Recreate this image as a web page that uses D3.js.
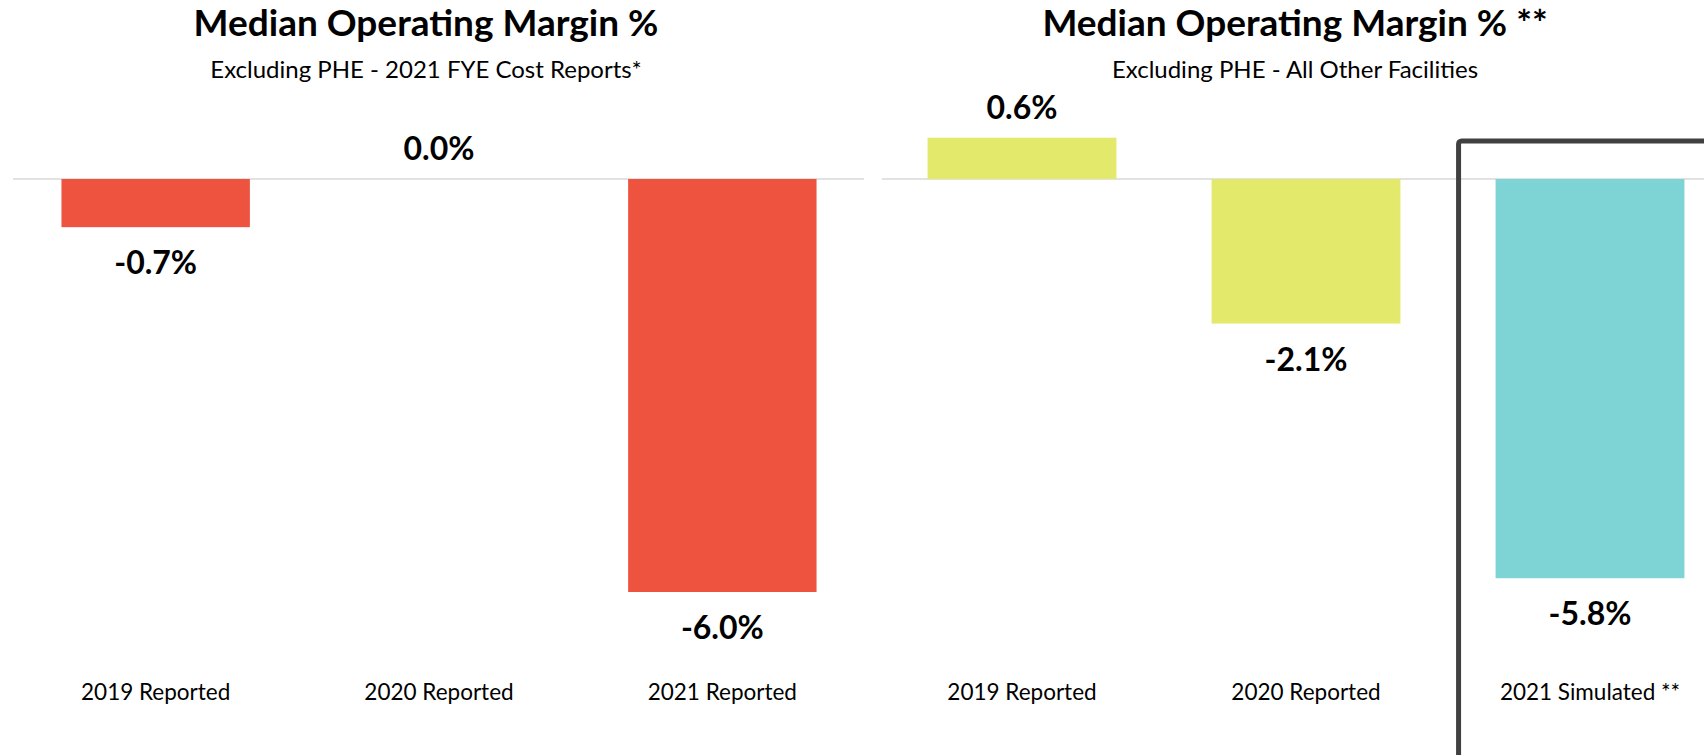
<html>
<head>
<script src="https://cdn.jsdelivr.net/npm/d3@7"></script>
<style>
  body { margin: 0; background: #fff; }
  text { font-family: Lato, "Open Sans", sans-serif; }
</style>
</head>
<body>
<script>
// chart data
var leftCategories = ["2019 Reported", "2020 Reported", "2021 Reported"];
var leftValues = [-0.7, 0.0, -6.0];
var leftLabels = ["-0.7%", "0.0%", "-6.0%"];

var rightCategories = ["2019 Reported", "2020 Reported", "2021 Simulated **"];
var rightValues = [0.6, -2.1, -5.8];
var rightLabels = ["0.6%", "-2.1%", "-5.8%"];
var rightColors = ["#e2e96b", "#e2e96b", "#7ed3d4"];

var width = 1704, height = 755;

var svg = d3.select("body").append("svg")
    .attr("width", width)
    .attr("height", height);

// shared y scale, both panels use the same range
var y = d3.scaleLinear().domain([0, -6]).range([179, 592]);

function drawPanel(opts) {
    var x = d3.scaleBand()
        .domain(opts.categories)
        .range(opts.range)
        .paddingInner(0.335)
        .paddingOuter(0.1675);

    var g = svg.append("g");

    // zero line
    g.append("line")
        .attr("x1", opts.lineExtent[0])
        .attr("x2", opts.lineExtent[1])
        .attr("y1", y(0))
        .attr("y2", y(0))
        .attr("stroke", "#d9d9d9")
        .attr("stroke-width", 1.5);

    g.selectAll("rect.bar")
        .data(opts.values)
        .enter().append("rect")
        .attr("class", "bar")
        .attr("x", function(d, i) { return x(opts.categories[i]); })
        .attr("width", x.bandwidth())
        .attr("y", function(d) { return Math.min(y(d), y(0)); })
        .attr("height", function(d) { return Math.abs(y(d) - y(0)); })
        .attr("fill", function(d, i) { return opts.colors[i]; });

    // value labels: above for >= 0, below for negative
    g.selectAll("text.val")
        .data(opts.values)
        .enter().append("text")
        .attr("class", "val")
        .attr("x", function(d, i) { return x(opts.categories[i]) + x.bandwidth() / 2; })
        .attr("y", function(d) { return d >= 0 ? y(d) - 30 : y(d) + 36; })
        .attr("dy", "0.35em")
        .attr("text-anchor", "middle")
        .attr("font-size", 32)
        .attr("font-weight", "bold")
        .attr("fill", "#000")
        .text(function(d, i) { return opts.labels[i]; });

    // category labels
    g.selectAll("text.cat")
        .data(opts.categories)
        .enter().append("text")
        .attr("class", "cat")
        .attr("x", function(d) { return x(d) + x.bandwidth() / 2; })
        .attr("y", 692)
        .attr("dy", "0.35em")
        .attr("text-anchor", "middle")
        .attr("font-size", 22.5)
        .attr("fill", "#000")
        .text(function(d) { return d; });

    // titles
    g.append("text")
        .attr("x", opts.titleX)
        .attr("y", 36)
        .attr("text-anchor", "middle")
        .attr("font-size", 37)
        .attr("font-weight", "bold")
        .attr("fill", "#000")
        .text(opts.title);

    g.append("text")
        .attr("x", opts.titleX)
        .attr("y", 70)
        .attr("dy", "0.35em")
        .attr("text-anchor", "middle")
        .attr("font-size", 24)
        .attr("fill", "#000")
        .text(opts.subtitle);

    return x;
}

drawPanel({
    categories: leftCategories,
    values: leftValues,
    labels: leftLabels,
    colors: ["#ee5340", "#ee5340", "#ee5340"],
    range: [14, 864],
    lineExtent: [13, 864],
    title: "Median Operating Margin %",
    subtitle: "Excluding PHE - 2021 FYE Cost Reports*",
    titleX: 426
});

var xr = drawPanel({
    categories: rightCategories,
    values: rightValues,
    labels: rightLabels,
    colors: rightColors,
    range: [880, 1732],
    lineExtent: [882, 1704],
    title: "Median Operating Margin % **",
    subtitle: "Excluding PHE - All Other Facilities",
    titleX: 1295
});

// highlight box around the simulated bar
var simX = xr(rightCategories[2]);
svg.append("rect")
    .attr("x", simX - 37)
    .attr("y", 141)
    .attr("width", 300)
    .attr("height", 700)
    .attr("rx", 3)
    .attr("fill", "none")
    .attr("stroke", "#404040")
    .attr("stroke-width", 5);
</script>
</body>
</html>
